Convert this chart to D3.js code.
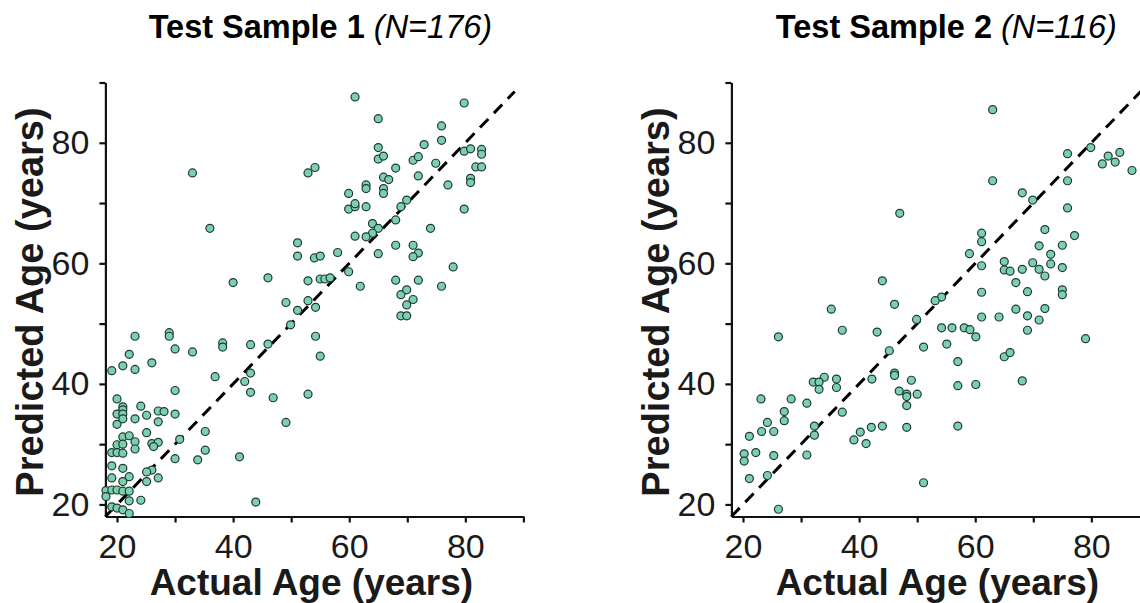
<!DOCTYPE html>
<html>
<head>
<meta charset="utf-8">
<script src="https://cdn.jsdelivr.net/npm/d3@7"></script>
<style>
  body { margin: 0; background: #fff; }
  svg { display: block; font-family: 'Liberation Sans', Arial, Helvetica, sans-serif; }
</style>
</head>
<body>
<svg id="chart" width="1140" height="603"></svg>
<script>
// data: [actual, predicted]
const sample1 = [
  [33.0,75.0],[52.9,75.0],[54.1,75.9],[36.0,65.8],[51.1,63.4],[51.1,61.2],[54.0,60.9],[55.0,61.2],
  [40.0,56.8],[46.0,57.6],[52.9,57.1],[55.0,57.4],[55.8,57.4],[56.7,57.6],[49.1,53.5],[51.1,52.2],
  [52.9,53.8],[54.2,52.7],[49.9,49.8],[54.2,47.9],[23.1,47.9],[29.0,48.5],[29.0,47.9],[55.0,44.6],
  [30.0,45.8],[33.0,45.3],[38.2,46.8],[38.2,46.1],[43.0,46.5],[46.0,46.6],[22.1,44.9],[21.0,43.0],
  [19.1,42.2],[23.1,42.4],[26.0,43.5],[36.9,41.2],[42.0,40.4],[43.0,41.8],[43.0,38.6],[46.9,37.7],
  [52.9,38.3],[49.1,33.6],[30.0,38.9],[20.0,37.5],[21.0,36.2],[21.0,35.7],[20.0,35.0],[21.0,35.0],
  [20.0,33.3],[21.0,34.2],[23.1,34.2],[24.1,36.3],[25.1,34.8],[27.1,35.5],[28.1,35.4],[27.1,33.7],
  [30.0,35.0],[25.1,31.9],[26.0,30.1],[27.1,30.3],[26.3,29.6],[21.0,31.2],[22.1,31.4],[20.0,29.9],
  [21.0,30.0],[19.1,28.6],[20.0,28.6],[21.0,28.5],[23.1,30.4],[23.1,29.2],[30.8,30.8],[35.2,32.1],
  [35.2,29.0],[30.0,27.6],[33.9,27.4],[41.1,27.9],[19.1,26.4],[21.0,26.0],[19.1,24.4],[21.0,23.8],
  [22.1,24.6],[26.0,25.7],[25.1,25.4],[25.1,23.8],[27.1,24.4],[18.1,22.3],[19.1,22.4],[20.0,22.4],
  [21.0,22.2],[22.1,22.2],[18.1,21.3],[22.1,20.6],[24.1,20.7],[43.9,20.4],[19.1,19.6],[20.0,19.4],
  [21.0,19.1],[22.1,18.5],
  [61.0,87.6],[79.8,86.6],[65.0,84.0],[75.9,82.8],[75.9,80.4],[72.9,79.7],[65.0,79.2],[65.0,77.3],
  [65.9,77.8],[68.0,75.8],[71.0,77.1],[71.9,77.7],[74.9,76.6],[71.9,74.5],[65.9,74.3],[66.8,73.9],
  [79.8,78.6],[80.9,79.0],[82.8,78.9],[82.8,78.1],[81.8,76.0],[82.8,76.0],[80.9,74.1],[80.9,73.4],
  [77.0,73.0],[79.8,69.0],[62.9,73.0],[62.9,72.4],[65.9,72.4],[65.9,71.6],[59.9,71.6],[59.9,69.0],
  [61.0,69.4],[61.0,69.9],[62.9,69.4],[68.9,69.4],[69.9,70.5],[68.0,67.2],[64.0,66.6],[65.0,65.8],
  [64.0,65.0],[62.9,64.4],[61.0,64.5],[74.0,65.8],[68.0,63.0],[65.0,61.6],[71.0,63.0],[71.9,61.7],
  [71.0,61.1],[77.9,59.4],[58.0,61.8],[59.9,58.6],[61.9,56.2],[68.0,57.2],[71.9,57.2],[68.9,54.8],
  [69.9,55.6],[71.0,54.0],[69.9,53.1],[68.9,51.3],[69.9,51.3],[75.9,56.2]
]

const sample2 = [
  [47.0,68.3],[44.0,57.1],[46.1,53.2],[35.2,52.4],[37.1,48.9],[43.1,48.6],[49.9,50.7],[26.1,47.8],
  [45.2,45.5],[46.1,41.8],[46.1,41.4],[49.0,40.6],[50.0,38.3],[48.2,38.3],[48.2,37.9],[46.9,38.8],
  [48.2,36.4],[48.2,32.8],[42.2,40.8],[44.0,33.0],[42.1,32.8],[40.2,32.0],[39.1,30.7],[41.2,30.1],
  [34.0,41.1],[32.1,40.3],[33.1,40.3],[33.1,39.1],[36.1,40.8],[36.1,39.4],[37.1,35.3],[28.3,37.5],
  [31.0,36.8],[27.1,35.4],[27.1,33.9],[32.3,33.0],[32.3,31.5],[23.1,37.5],[24.2,33.6],[23.2,32.1],
  [25.3,32.1],[21.1,31.3],[20.2,28.4],[20.2,27.2],[22.2,28.6],[25.3,28.1],[31.0,28.2],[21.1,24.3],
  [24.2,24.8],[26.1,19.2],
  [63.0,85.5],[63.0,73.7],[75.9,78.2],[79.9,79.2],[82.9,77.8],[84.9,78.4],[81.9,76.5],[84.1,76.8],
  [87.0,75.4],[75.9,73.7],[68.1,71.7],[69.9,70.5],[75.9,69.2],[72.0,65.6],[77.1,64.6],[61.1,65.0],
  [61.1,63.6],[59.0,61.6],[61.1,59.6],[65.0,60.3],[65.0,58.9],[66.0,58.7],[68.1,59.0],[69.9,60.1],
  [71.0,59.0],[72.0,57.9],[71.0,62.9],[73.0,61.5],[75.0,63.0],[73.0,59.9],[75.0,59.3],[67.0,56.8],
  [69.0,55.3],[75.0,55.6],[75.0,54.8],[61.1,55.2],[61.1,51.1],[64.1,51.1],[67.0,52.4],[69.0,51.3],
  [72.0,52.5],[71.0,50.6],[69.0,48.9],[54.2,54.4],[53.1,53.8],[54.2,49.3],[56.0,49.3],[58.1,49.3],
  [59.1,49.0],[60.1,47.8],[79.0,47.5],
  [51.1,46.1],[55.1,46.6],[57.0,43.7],[65.0,44.5],[66.0,45.2],[57.0,39.7],[60.1,39.9],[68.1,40.5],
  [57.0,33.0],[51.1,23.6]
]

const titles = ['Test Sample 1', 'Test Sample 2']
const sampleSizes = ['(N=176)', '(N=116)']
const tickValues = [20, 30, 40, 50, 60, 70, 80, 90]
const labelledTicks = [20, 40, 60, 80]
const axisDomain = [18, 90]
const identityLine = [18, 88.5]

const svg = d3.select('#chart')

const drawPanel = (i, data) => {
    const left = 105.4 + i * 626
    const width = 418
    const top = 82.5
    const bottom = 516.5

    const g = svg.append('g')

    const xScale = d3.scaleLinear().domain(axisDomain).range([left, left + width])
    const yScale = d3.scaleLinear().domain(axisDomain).range([bottom, top])

    const fmt = d => labelledTicks.includes(d) ? d : ''

    const xAxis = g.append('g')
        .attr('transform', `translate(0, ${bottom})`)
        .call(d3.axisBottom(xScale).tickValues(tickValues).tickFormat(fmt)
            .tickSize(6).tickSizeOuter(0).tickPadding(11))
    const yAxis = g.append('g')
        .attr('transform', `translate(${left}, 0)`)
        .call(d3.axisLeft(yScale).tickValues(tickValues).tickFormat(fmt)
            .tickSize(6).tickSizeOuter(0).tickPadding(10))

    ;[xAxis, yAxis].forEach(a => {
        a.select('.domain').attr('stroke', '#111').attr('stroke-width', 2.2)
        a.selectAll('.tick line').attr('stroke', '#111').attr('stroke-width', 2.2)
        a.selectAll('.tick text')
            .attr('fill', '#1a1a1a')
            .style('font-size', '34px')
            .style('font-family', "'Liberation Sans', Arial, sans-serif")
    })

    // identity line
    g.append('line')
        .attr('x1', xScale(identityLine[0]))
        .attr('y1', yScale(identityLine[0]))
        .attr('x2', xScale(identityLine[1]))
        .attr('y2', yScale(identityLine[1]))
        .attr('stroke', '#000')
        .attr('stroke-width', 3)
        .attr('stroke-dasharray', '12,8')

    g.selectAll('circle')
        .data(data)
        .join('circle')
        .attr('cx', d => xScale(d[0]))
        .attr('cy', d => yScale(d[1]))
        .attr('r', 4)
        .attr('fill', '#7dcfae')
        .attr('stroke', '#1d3b34')
        .attr('stroke-width', 1.2)

    const title = g.append('text')
        .attr('x', left + width / 2 + 6)
        .attr('y', 38)
        .attr('text-anchor', 'middle')
        .style('font-size', '32.5px')
    title.append('tspan').attr('font-weight', 'bold').text(titles[i] + ' ')
    title.append('tspan').attr('font-style', 'italic').text(sampleSizes[i])

    g.append('text')
        .attr('x', left + width / 2 - 3)
        .attr('y', 595)
        .attr('text-anchor', 'middle')
        .attr('font-weight', 'bold')
        .attr('fill', '#1a1a1a')
        .style('font-size', '37px')
        .text('Actual Age (years)')

    g.append('text')
        .attr('transform', `translate(${left - 62}, 302) rotate(-90)`)
        .attr('text-anchor', 'middle')
        .attr('font-weight', 'bold')
        .attr('fill', '#1a1a1a')
        .style('font-size', '38px')
        .text('Predicted Age (years)')
}

drawPanel(0, sample1)
drawPanel(1, sample2)
</script>
</body>
</html>
